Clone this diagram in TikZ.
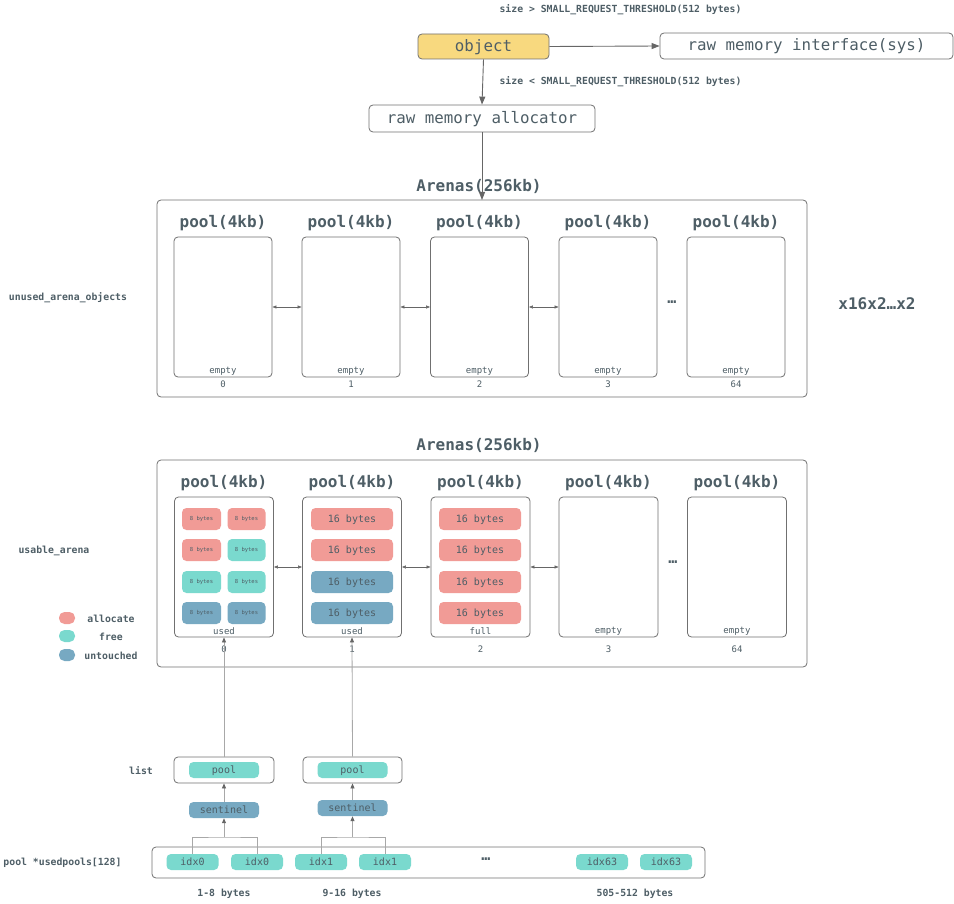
\documentclass[tikz,border=0pt]{standalone}
\usepackage{fontspec}
\setmainfont{DejaVu Sans Mono}
\usetikzlibrary{arrows.meta}
\definecolor{tc}{HTML}{4E5E66}
\definecolor{bd}{HTML}{707070}
\definecolor{yel}{HTML}{F8D97F}
\definecolor{cred}{HTML}{F19B96}
\definecolor{cteal}{HTML}{7AD9CE}
\definecolor{cblue}{HTML}{77A9C2}
\definecolor{ln}{HTML}{A8A8A8}
\definecolor{ar}{HTML}{666666}
\begin{document}
\begin{tikzpicture}[x=1pt,y=-1pt,
  box/.style={draw=bd, line width=0.8pt, rounded corners=4pt, fill=white, inner sep=0pt, text=tc},
  cell/.style={rounded corners=4.5pt, inner sep=0pt, text=tc, minimum height=16pt},
  big/.style={text=tc, font=\fontsize{15.8}{18}\selectfont, text height=12pt, text depth=2pt},
  title/.style={text=tc, font=\fontsize{16}{18}\selectfont\bfseries, inner sep=0pt},
  lab/.style={text=tc, font=\fontsize{9.8}{11}\selectfont\bfseries, inner sep=0pt},
  dots/.style={text=tc, font=\fontsize{15}{16}\selectfont\bfseries, inner sep=0pt},
  small/.style={text=tc, font=\fontsize{9}{10}\selectfont, inner sep=0pt},
  cellt/.style={font=\fontsize{10}{11}\selectfont, text height=7.5pt, text depth=1.5pt},
  arr/.style={draw=ar, line width=0.9pt, -{Triangle[length=8pt,width=6pt]}},
  darr/.style={draw=ar, line width=0.6pt, {Triangle[length=4pt,width=3pt]}-{Triangle[length=4pt,width=3pt]}},
  uparr/.style={draw=ln, line width=0.8pt, -{Triangle[length=5pt,width=4pt,color=ar]}},
  lnl/.style={draw=ln, line width=0.8pt}
]
\useasboundingbox (0,0) rectangle (954,904);

% top part
\node[lab] (lgt) at (620.5,10) {size > SMALL\_REQUEST\_THRESHOLD(512 bytes)};
\node[box, fill=yel, minimum width=131pt, minimum height=25pt, big] (obj) at (483.5,46.5) {object};
\node[box, minimum width=293pt, minimum height=26pt, big] (sys) at (806.5,46) {raw memory interface(sys)};
\node[lab] (llt) at (620.5,82) {size < SMALL\_REQUEST\_THRESHOLD(512 bytes)};
\node[box, minimum width=226pt, minimum height=27pt, big] (alloc) at (482,118.5) {raw memory allocator};
\draw[arr] (obj.east) -- (sys.west);
\draw[arr] (obj.south) -- (alloc.north);

% arena 1
\node[title] (ar1t) at (479,186.5) {Arenas(256kb)};
\node[box, minimum width=650pt, minimum height=197pt] (ar1) at (482,298.5) {};
\coordinate (ar1top) at (482,200);
\draw[arr] (alloc.south) -- (ar1top);
\foreach \i/\x/\n in {0/223/0,1/351/1,2/479.5/2,3/608/3,4/736/64}{
  \node[box, minimum width=98pt, minimum height=140pt] (a\i) at (\x,307) {};
  \node[title] (at\i) at (\x,223.5) {pool(4kb)};
  \node[small] (ae\i) at (\x,371.5) {empty};
  \node[small] (ai\i) at (\x,384) {\n};
}
\draw[darr] (a0.east) -- (a1.west);
\draw[darr] (a1.east) -- (a2.west);
\draw[darr] (a2.east) -- (a3.west);
\node[dots] (adots) at (672,302) {…};
\node[lab] (uao) at (68,298) {unused\_arena\_objects};
\node[title] (mult) at (877,303.5) {x16x2…x2};

% arena 2
\node[title] (ar2t) at (479,445.5) {Arenas(256kb)};
\node[box, minimum width=650pt, minimum height=207pt] (ar2) at (482,563.5) {};
\foreach \i/\x/\n/\s in {0/224/0/used,1/352/1/used,2/480.5/2/full,3/608.5/3/empty,4/737/64/empty}{
  \node[box, minimum width=99pt, minimum height=140pt] (b\i) at (\x,567) {};
  \node[title] (bt\i) at (\x,483.5) {pool(4kb)};
  \node[small] (be\i) at (\x,631.5) {\s};
  \node[small] (bi\i) at (\x,649) {\n};
}
\foreach \y/\ca/\cb [count=\r] in {519/cred/cred,550/cred/cteal,582/cteal/cteal,613/cblue/cblue}{
  \node[cell, fill=\ca, minimum width=39pt, minimum height=22pt, font=\fontsize{5.5}{6}\selectfont] (c0a\r) at (201.5,\y) {8 bytes};
  \node[cell, fill=\cb, minimum width=38pt, minimum height=22pt, font=\fontsize{5.5}{6}\selectfont] (c0b\r) at (246.5,\y) {8 bytes};
}
\foreach \y/\ca [count=\r] in {519/cred,550/cred,582/cblue,613/cblue}{
  \node[cell, fill=\ca, minimum width=82pt, minimum height=22pt, cellt] (c1\r) at (352,\y) {16 bytes};
}
\foreach \y [count=\r] in {519,550,582,613}{
  \node[cell, fill=cred, minimum width=82pt, minimum height=22pt, cellt] (c2\r) at (480,\y) {16 bytes};
}
\draw[darr] (b0.east) -- (b1.west);
\draw[darr] (b1.east) -- (b2.west);
\draw[darr] (b2.east) -- (b3.west);
\node[dots] (bdots) at (673,562) {…};
\node[lab] (ua) at (54,551) {usable\_arena};

% legend
\node[cell, fill=cred, minimum width=16pt, minimum height=12pt, rounded corners=5.5pt] (lg1) at (67,618) {};
\node[cell, fill=cteal, minimum width=16pt, minimum height=12pt, rounded corners=5.5pt] (lg2) at (67,636) {};
\node[cell, fill=cblue, minimum width=16pt, minimum height=12pt, rounded corners=5.5pt] (lg3) at (67,655) {};
\node[lab] (lt1) at (111,618.5) {allocate};
\node[lab] (lt2) at (111,636.5) {free};
\node[lab] (lt3) at (111,655.5) {untouched};

% lists
\node[lab] (listl) at (141,771) {list};
\node[box, minimum width=100pt, minimum height=26pt] (l0) at (224,770) {};
\node[box, minimum width=99pt, minimum height=26pt] (l1) at (352.5,770) {};
\node[cell, fill=cteal, minimum width=70pt, cellt] (p0) at (224,770) {pool};
\node[cell, fill=cteal, minimum width=70pt, cellt] (p1) at (352.5,770) {pool};
\node[cell, fill=cblue, minimum width=70pt, cellt] (s0) at (224,810) {sentinel};
\node[cell, fill=cblue, minimum width=70pt, cellt] (s1) at (352.5,808) {sentinel};
\draw[uparr] (l0.north) -- (b0.south);
\draw[uparr] (l1.north) -- (b1.south);
\draw[uparr] (s0.north) -- (l0.south);
\draw[uparr] (s1.north) -- (l1.south);

% usedpools
\node[lab] (upl) at (62.5,863) {pool *usedpools[128]};
\node[box, minimum width=553pt, minimum height=31pt] (up) at (428.5,862.5) {};
\foreach \n/\x/\t in {i0a/192.5/idx0,i0b/257/idx0,i1a/321/idx1,i1b/385/idx1,i63a/602/idx63,i63b/666/idx63}{
  \node[cell, fill=cteal, minimum width=52pt, cellt] (\n) at (\x,862) {\t};
}
\node[dots] (udots) at (486,859) {…};
\coordinate (j0) at (224,837);
\coordinate (j1) at (352.5,837);
\draw[lnl] (i0a.north) |- (j0) -| (i0b.north);
\draw[lnl] (i1a.north) |- (j1) -| (i1b.north);
\draw[uparr] (j0) -- (s0.south);
\draw[uparr] (j1) -- (s1.south);
\node[lab] (r0) at (224,894) {1-8 bytes};
\node[lab] (r1) at (352,894) {9-16 bytes};
\node[lab] (r63) at (635,894) {505-512 bytes};
\end{tikzpicture}
\end{document}
